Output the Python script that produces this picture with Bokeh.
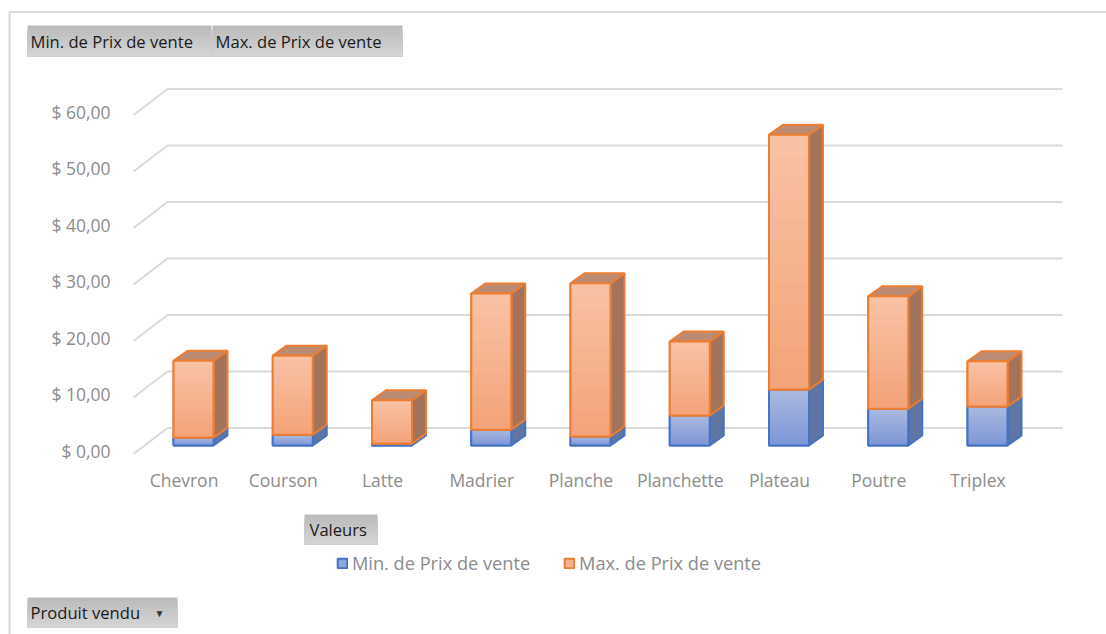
from bokeh.plotting import figure
from bokeh.embed import file_html
from bokeh.resources import INLINE
from bokeh.models import Range1d, FixedTicker, BoxAnnotation, Label, Legend, LegendItem

products = ["Chevron", "Courson", "Latte", "Madrier", "Planche", "Planchette", "Plateau", "Poutre", "Triplex"]
min_prix = [1.4, 1.9, 0.3, 2.8, 1.6, 5.3, 9.9, 6.5, 6.9]
max_prix = [13.6, 14.0, 7.7, 24.1, 27.1, 13.1, 45.1, 19.9, 8.0]
y_ticks = [0, 10, 20, 30, 40, 50, 60]
y_labels = ["$ 0,00", "$ 10,00", "$ 20,00", "$ 30,00", "$ 40,00", "$ 50,00", "$ 60,00"]

FONT = "Open Sans"
GREY = "#8C8C8C"
PX_X = 99.25   # pixels per category
PX_Y = 5.65    # pixels per currency unit
X0, Y0 = 183.5, 450.0  # picture pixel of category 0 / value 0
W, H = 1106, 634
fx = lambda px: (px - X0) / PX_X
fy = lambda py: (Y0 - py) / PX_Y

p = figure(width=W, height=H, output_backend="svg", toolbar_location=None,
           x_range=Range1d(fx(0), fx(W)), y_range=Range1d(fy(H), fy(0)),
           min_border=0)
p.outline_line_color = None
p.grid.visible = False
p.background_fill_color = "white"

for ax, ticks in ((p.xaxis[0], list(range(len(products)))), (p.yaxis[0], y_ticks)):
    ax.axis_line_color = None
    ax.major_tick_line_color = None
    ax.minor_tick_line_color = None
    ax.ticker = FixedTicker(ticks=ticks)
    ax.major_label_text_font = FONT
    ax.major_label_text_font_size = "17.5px"
    ax.major_label_text_color = GREY
p.xaxis[0].major_label_overrides = dict(enumerate(products))
p.xaxis[0].fixed_location = fy(460)
p.xaxis[0].major_label_standoff = 1
p.yaxis[0].major_label_overrides = dict(zip(y_ticks, y_labels))
p.yaxis[0].fixed_location = fx(125)
p.yaxis[0].major_label_standoff = 9

# outer frame lines
p.multi_line([[fx(9), fx(9), fx(W)]], [[fy(H), fy(11.5), fy(11.5)]], line_color="#DADADA", line_width=2)

# back-wall gridlines with their floor returns
gx = [[fx(133), fx(167), fx(1062)] for _ in y_ticks]
gy = [[t + fy(453.5), t + fy(427.5), t + fy(427.5)] for t in y_ticks]
p.multi_line(gx, gy, line_color="#DADADA", line_width=2)

# bar geometry
cx = fx(193)
hw = 20 / PX_X
dx = 14 / PX_X
dy = 10 / PX_Y
base = 5 / PX_Y


def faces(lo, hi, side, top, edge):
    sx, sy, tx, ty = [], [], [], []
    for i in range(len(products)):
        r = i + cx + hw
        l = i + cx - hw
        sx.append([r, r + dx, r + dx, r])
        sy.append([lo[i], lo[i] + dy, hi[i] + dy, hi[i]])
        tx.append([l, l + dx, r + dx, r])
        ty.append([hi[i], hi[i] + dy, hi[i] + dy, hi[i]])
    p.patches(sx, sy, fill_color=side, line_color=edge, line_width=2)
    p.patches(tx, ty, fill_color=top, line_color=edge, line_width=2)


def mix(a, b, t):
    ca = [int(a[k:k + 2], 16) for k in (1, 3, 5)]
    cb = [int(b[k:k + 2], 16) for k in (1, 3, 5)]
    return "#%02x%02x%02x" % tuple(round(u + (v - u) * t) for u, v in zip(ca, cb))


def front(lo, hi, c_top, c_bot, edge, mid):
    xs = [i + cx for i in range(len(products))]
    lead = p.vbar(xs, top=hi, bottom=lo, width=2 * hw, fill_color=mid, line_color=edge, line_width=2)
    n = 12
    for k in range(n):
        t = [h - (h - b) * k / n for h, b in zip(hi, lo)]
        p.vbar(xs, top=t, bottom=lo, width=2 * hw, fill_color=mix(c_top, c_bot, k / (n - 1)), line_color=None)
    p.vbar(xs, top=hi, bottom=lo, width=2 * hw, fill_color=None, line_color=edge, line_width=2)
    return lead


b0 = [base] * len(products)
b1 = [base + v for v in min_prix]
b2 = [a + v for a, v in zip(b1, max_prix)]

faces(b0, b1, "#5F75A3", "#7E93C4", "#4472C4")
faces(b1, b2, "#A3735B", "#BB8C73", "#ED7D31")
r_min = front(b0, b1, "#A8B8DF", "#7E97D6", "#4472C4", "#8FA6DB")
r_max = front(b1, b2, "#F9C1A4", "#F4A47B", "#ED7D31", "#F6B08E")

legend = Legend(items=[LegendItem(label="Min. de Prix de vente", renderers=[r_min]),
                       LegendItem(label="Max. de Prix de vente", renderers=[r_max])],
                orientation="horizontal", location=(336, H - 575),
                background_fill_alpha=0, border_line_color=None,
                label_text_font=FONT, label_text_font_size="18.2px", label_text_color=GREY,
                glyph_width=12, glyph_height=12, label_standoff=4, spacing=33, margin=0, padding=6)
p.add_layout(legend, "center")


def button(l, r, t, b, text, tx):
    n = 8
    for k in range(n):
        p.add_layout(BoxAnnotation(left=fx(l), right=fx(r), top=fy(t + (b - t) * k / n), bottom=fy(b),
                                   fill_color=mix("#BBBBBB", "#D4D4D4", k / (n - 1)), fill_alpha=1,
                                   line_color=None))
    p.add_layout(Label(x=fx(tx), y=fy((t + b) / 2), text=text, text_font=FONT, text_font_size="16.6px",
                       text_color="#1A1A1A", text_baseline="middle"))


button(27, 211, 25, 56, "Min. de Prix de vente", 30)
button(212, 402, 25, 56, "Max. de Prix de vente", 215)
button(304, 377, 514, 544, "Valeurs", 309)
button(27, 177, 597, 627, "Produit vendu", 30)
p.add_layout(Label(x=fx(159), y=fy(612), text="▼", text_font=FONT, text_font_size="10px",
                   text_align="center", text_color="#333333", text_baseline="middle"))

open("out.html", "w").write(file_html(p, INLINE))
